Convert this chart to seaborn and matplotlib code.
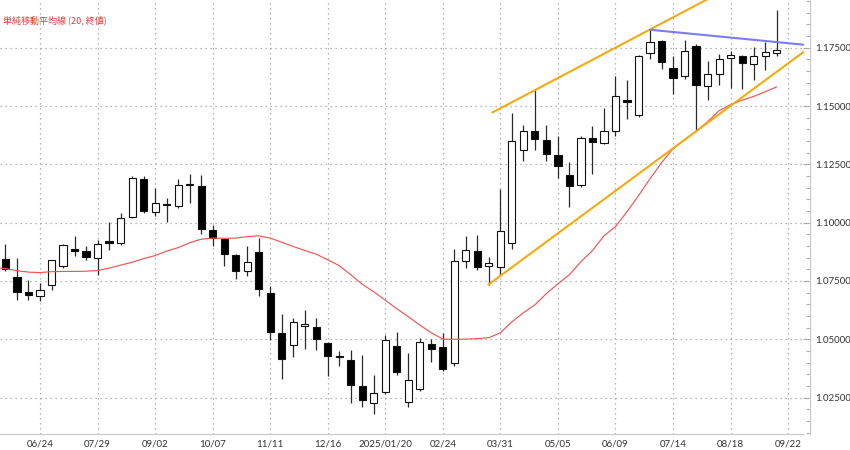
import numpy as np
import pandas as pd
import matplotlib
matplotlib.use("Agg")
import matplotlib.pyplot as plt
import seaborn as sns

# ---- data (weekly EUR/USD candles, week starting 2024-06-03) ----
opens = [1.0845, 1.0767, 1.0701, 1.0687, 1.0734, 1.0813, 1.0887, 1.0880, 1.0849, 1.0920,
         1.0913, 1.1023, 1.1187, 1.1044, 1.1081, 1.1070, 1.1160, 1.1156, 1.0967, 1.0930,
         1.0863, 1.0791, 1.0874, 1.0699, 1.0527, 1.0477, 1.0555, 1.0551, 1.0484, 1.0428,
         1.0413, 1.0301, 1.0227, 1.0273, 1.0473, 1.0233, 1.0287, 1.0481, 1.0467, 1.0399,
         1.0834, 1.0877, 1.0813, 1.0810, 1.0913, 1.1313, 1.1394, 1.1356, 1.1291, 1.1206,
         1.1163, 1.1363, 1.1342, 1.1391, 1.1527, 1.1463, 1.1727, 1.1777, 1.1663, 1.1627,
         1.1756, 1.1584, 1.1639, 1.1706, 1.1716, 1.1681, 1.1713, 1.1727]
highs = [1.0910, 1.0849, 1.0756, 1.0741, 1.0842, 1.0908, 1.0944, 1.0898, 1.0924, 1.1005,
         1.1041, 1.1200, 1.1201, 1.1149, 1.1106, 1.1187, 1.1210, 1.1206, 1.0991, 1.0935,
         1.0866, 1.0901, 1.0934, 1.0727, 1.0610, 1.0591, 1.0627, 1.0591, 1.0490, 1.0448,
         1.0456, 1.0434, 1.0348, 1.0520, 1.0530, 1.0441, 1.0506, 1.0501, 1.0527, 1.0887,
         1.0944, 1.0949, 1.0853, 1.1144, 1.1470, 1.1420, 1.1567, 1.1420, 1.1373, 1.1258,
         1.1370, 1.1416, 1.1492, 1.1627, 1.1610, 1.1720, 1.1827, 1.1784, 1.1716, 1.1781,
         1.1767, 1.1691, 1.1724, 1.1738, 1.1720, 1.1753, 1.1773, 1.1913]
lows = [1.0795, 1.0667, 1.0670, 1.0663, 1.0710, 1.0805, 1.0859, 1.0841, 1.0777, 1.0884,
        1.0905, 1.1018, 1.1040, 1.1027, 1.1001, 1.1065, 1.1084, 1.0953, 1.0898, 1.0813,
        1.0759, 1.0770, 1.0684, 1.0498, 1.0330, 1.0424, 1.0459, 1.0453, 1.0341, 1.0384,
        1.0227, 1.0212, 1.0180, 1.0265, 1.0348, 1.0210, 1.0277, 1.0401, 1.0363, 1.0387,
        1.0806, 1.0798, 1.0734, 1.0777, 1.0887, 1.1263, 1.1310, 1.1263, 1.1191, 1.1067,
        1.1155, 1.1210, 1.1338, 1.1370, 1.1444, 1.1453, 1.1702, 1.1659, 1.1553, 1.1616,
        1.1391, 1.1527, 1.1591, 1.1577, 1.1573, 1.1610, 1.1656, 1.1716]
closes = [1.0800, 1.0703, 1.0690, 1.0710, 1.0838, 1.0903, 1.0880, 1.0853, 1.0909, 1.0911,
          1.1020, 1.1192, 1.1048, 1.1084, 1.1074, 1.1160, 1.1165, 1.0973, 1.0934, 1.0866,
          1.0795, 1.0831, 1.0716, 1.0530, 1.0416, 1.0576, 1.0567, 1.0501, 1.0427, 1.0424,
          1.0306, 1.0241, 1.0270, 1.0495, 1.0358, 1.0324, 1.0487, 1.0459, 1.0373, 1.0834,
          1.0881, 1.0810, 1.0827, 1.0963, 1.1348, 1.1391, 1.1359, 1.1296, 1.1244, 1.1158,
          1.1363, 1.1346, 1.1391, 1.1544, 1.1519, 1.1713, 1.1773, 1.1689, 1.1620, 1.1737,
          1.1591, 1.1639, 1.1702, 1.1720, 1.1684, 1.1716, 1.1730, 1.1741]

# 20-week simple moving average of closes, starting one week before first candle
ma20 = [1.0809, 1.0803, 1.0794, 1.0788, 1.0786, 1.0790, 1.0791, 1.0791, 1.0792, 1.0795,
        1.0805, 1.0818, 1.0830, 1.0846, 1.0859, 1.0878, 1.0893, 1.0914, 1.0929, 1.0934,
        1.0933, 1.0934, 1.0940, 1.0944, 1.0934, 1.0916, 1.0898, 1.0881, 1.0865, 1.0841,
        1.0816, 1.0777, 1.0736, 1.0704, 1.0668, 1.0631, 1.0597, 1.0561, 1.0528, 1.0501,
        1.0500, 1.0501, 1.0503, 1.0507, 1.0528, 1.0575, 1.0614, 1.0648, 1.0696, 1.0738,
        1.0777, 1.0833, 1.0880, 1.0944, 1.0983, 1.1047, 1.1116, 1.1188, 1.1257, 1.1317,
        1.1356, 1.1391, 1.1433, 1.1480, 1.1506, 1.1525, 1.1541, 1.1561, 1.1582]

# trend lines (week index, price)
upper_x = [42.3, 66.0]
upper_y = [1.1472, 1.2088]
lower_x = [41.95, 69.32]
lower_y = [1.0734, 1.1731]
blue_x = [56.0, 69.32]
blue_y = [1.1827, 1.1763]

tick_idx = [3, 8, 13, 18, 23, 28, 33, 38, 43, 48, 53, 58, 63, 68]
tick_labels = ["06/24", "07/29", "09/02", "10/07", "11/11", "12/16", "2025/01/20",
               "02/24", "03/31", "05/05", "06/09", "07/14", "08/18", "09/22"]
y_ticks = [1.025, 1.05, 1.075, 1.10, 1.125, 1.15, 1.175]

legend_text = "単純移動平均線 (20, 終値)"

# ---- figure ----
sns.set_theme(style="white")
plt.rcParams["font.family"] = ["Lato", "DejaVu Sans"]

fig = plt.figure(figsize=(8.5, 4.5), dpi=100)
ax = fig.add_axes([0.0, 16.5 / 450, 810 / 850, 433.5 / 450])

df = pd.DataFrame({"o": opens, "h": highs, "l": lows, "c": closes})
df["i"] = np.arange(len(df))
df["bull"] = df["c"] >= df["o"]
df["bottom"] = df[["o", "c"]].min(axis=1)
df["height"] = (df["c"] - df["o"]).abs().clip(lower=0.00025)

# wicks
ax.vlines(df["i"], df["l"], df["h"], color="#2a2a2a", linewidth=0.9, zorder=3)
# bodies
ax.bar(df["i"], df["height"], bottom=df["bottom"], width=0.62,
       color=np.where(df["bull"], "white", "black"), edgecolor="#111111",
       linewidth=0.8, zorder=4)

# moving average
ma_df = pd.DataFrame({"i": np.arange(-1, len(ma20) - 1), "ma": ma20})
sns.lineplot(data=ma_df, x="i", y="ma", ax=ax, color="#f05555", linewidth=0.85, zorder=5)

# trend lines
sns.lineplot(x=upper_x, y=upper_y, ax=ax, color="#f4aa10", linewidth=1.5, zorder=6)
sns.lineplot(x=lower_x, y=lower_y, ax=ax, color="#f4aa10", linewidth=1.5, zorder=6)
sns.lineplot(x=blue_x, y=blue_y, ax=ax, color="#7c7cf0", linewidth=1.5, zorder=6)

ax.set_xlim(-0.475, 69.9)
ax.set_ylim(1.00963, 1.19545)

# grid
for t in tick_idx:
    ax.axvline(t, color="#a0a0a0", linewidth=0.9, linestyle=(0, (1, 3)), zorder=1)
for yv in y_ticks:
    ax.axhline(yv, color="#a0a0a0", linewidth=0.9, linestyle=(0, (1, 3)), zorder=1)

# axes styling
for s in ["left", "top"]:
    ax.spines[s].set_visible(False)
for s in ["bottom", "right"]:
    ax.spines[s].set_visible(True)
    ax.spines[s].set_color("#c8c8c8")
    ax.spines[s].set_linewidth(0.8)
ax.spines["bottom"].set_bounds(-0.475, 69.3)

ax.yaxis.tick_right()
ax.set_yticks(y_ticks)
ax.set_yticklabels([f"{v:.5f}" for v in y_ticks])
ax.set_yticks(np.arange(1.010, 1.196, 0.005), minor=True)
ax.set_xticks(tick_idx)
ax.set_xticklabels(tick_labels)
ax.set_xticks(np.arange(0, 70), minor=True)
ax.tick_params(axis="both", which="both", direction="in", color="#b0b0b0", width=0.8)
ax.tick_params(axis="y", which="major", length=5, pad=4, labelsize=7, labelcolor="#333333",
               right=True, left=False)
ax.tick_params(axis="y", which="minor", length=3, right=True, left=False)
ax.tick_params(axis="x", which="major", length=4, pad=4, labelsize=7, labelcolor="#333333")
ax.tick_params(axis="x", which="minor", length=2.5)
ax.set_xlabel("")
ax.set_ylabel("")
ax.grid(False)

ax.text(0.004, 1 - 20 / 433.5, legend_text, transform=ax.transAxes, color="#e83a3a",
        fontsize=6.5, va="center", ha="left",
        family=["Noto Sans CJK JP", "DejaVu Sans"], zorder=7)

fig.savefig("out.png", dpi=100)
